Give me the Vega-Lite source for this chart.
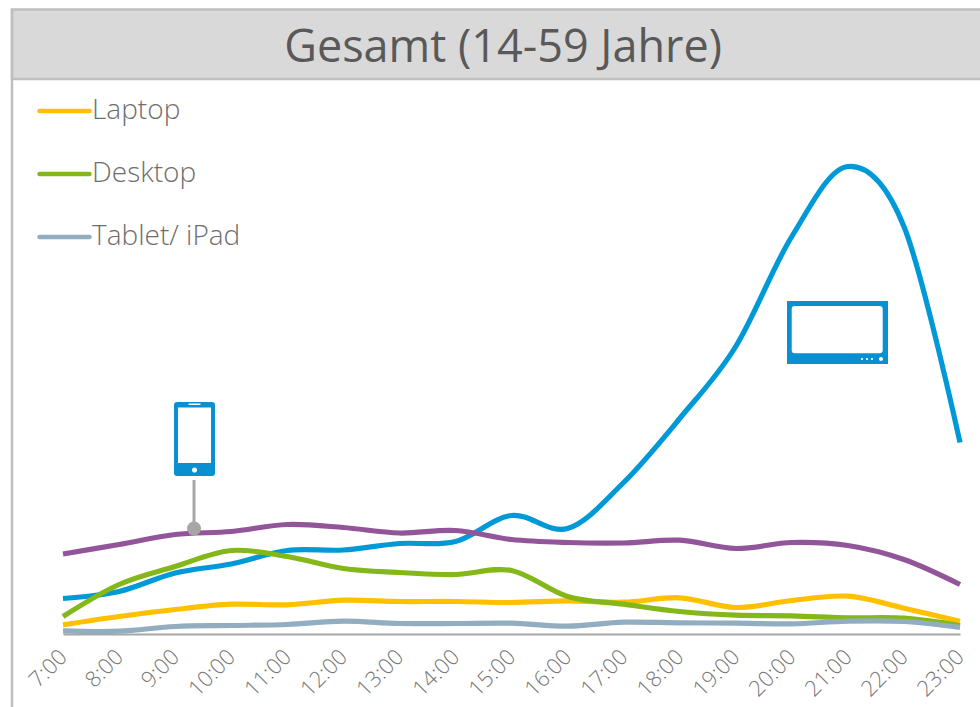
{
"$schema":"https://vega.github.io/schema/vega-lite/v6.json",
"width":897,"height":634,"autosize":{"type":"none"},
"padding":{"left":63,"right":20,"top":0,"bottom":73},
"background":"white",
"config":{"view":{"stroke":null},"font":"Open Sans"},
"layer":[
{"mark":{"type":"rect","fill":"#d9d9d9","stroke":"#bfbfbf","strokeWidth":2.5},
 "data":{"values":[{}]},
 "encoding":{"x":{"datum":6.09,"type":"quantitative","scale":{"domain":[7,23]},
   "axis":{"values":[7,8,9,10,11,12,13,14,15,16,17,18,19,20,21,22,23],"labelExpr":"datum.value + ':00'","title":null,"grid":false,"ticks":false,"domainColor":"#a6a6a6","domainWidth":2,"labelAngle":-45,"labelAlign":"right","labelBaseline":"middle","labelFontSize":22,"labelFont":"Open Sans","labelFontWeight":300,"labelColor":"#767676","labelPadding":19,"labelOverlap":false,"labelBound":false,"labelFlush":false}},"x2":{"datum":23.6},"y":{"datum":626.5,"type":"quantitative","scale":{"domain":[2,636]},"axis":null},"y2":{"datum":557}}},
{"mark":{"type":"rule","stroke":"#bfbfbf","strokeWidth":2.5},
 "data":{"values":[{}]},
 "encoding":{"x":{"datum":6.09,"type":"quantitative","scale":{"domain":[7,23]}},"y":{"datum":626.5,"type":"quantitative","scale":{"domain":[2,636]},"axis":null},"y2":{"datum":-80}}},
{"mark":{"type":"text","fontSize":45,"font":"Open Sans","fontWeight":400,"color":"#595959","align":"center","baseline":"alphabetic"},
 "data":{"values":[{"t":"Gesamt (14-59 Jahre)"}]},
 "encoding":{"text":{"field":"t"},"x":{"datum":14.85,"type":"quantitative","scale":{"domain":[7,23]}},"y":{"datum":574,"type":"quantitative","scale":{"domain":[2,636]},"axis":null}}},
{"mark":{"type":"line","interpolate":"cardinal","strokeWidth":5.2,"strokeCap":"butt","clip":false},
 "data":{"values":[
{"h":7,"s":"TV","v":37.5},{"h":8,"s":"TV","v":44.5},{"h":9,"s":"TV","v":63},{"h":10,"s":"TV","v":72},{"h":11,"s":"TV","v":85.5},{"h":12,"s":"TV","v":86},{"h":13,"s":"TV","v":92.5},{"h":14,"s":"TV","v":94.5},{"h":15,"s":"TV","v":120.5},{"h":16,"s":"TV","v":107.5},{"h":17,"s":"TV","v":153.5},{"h":18,"s":"TV","v":217.5},{"h":19,"s":"TV","v":289.5},{"h":20,"s":"TV","v":399.5},{"h":21,"s":"TV","v":469.5},{"h":22,"s":"TV","v":409.5},{"h":23,"s":"TV","v":193.5},
{"h":7,"s":"Smartphone","v":82},{"h":8,"s":"Smartphone","v":91.5},{"h":9,"s":"Smartphone","v":101.5},{"h":10,"s":"Smartphone","v":104.5},{"h":11,"s":"Smartphone","v":111.5},{"h":12,"s":"Smartphone","v":108.5},{"h":13,"s":"Smartphone","v":103},{"h":14,"s":"Smartphone","v":105.5},{"h":15,"s":"Smartphone","v":96.5},{"h":16,"s":"Smartphone","v":93.5},{"h":17,"s":"Smartphone","v":93},{"h":18,"s":"Smartphone","v":95.8},{"h":19,"s":"Smartphone","v":87.5},{"h":20,"s":"Smartphone","v":93.5},{"h":21,"s":"Smartphone","v":90.5},{"h":22,"s":"Smartphone","v":76.5},{"h":23,"s":"Smartphone","v":51.5},
{"h":7,"s":"Laptop","v":11.2},{"h":8,"s":"Laptop","v":19.5},{"h":9,"s":"Laptop","v":26.5},{"h":10,"s":"Laptop","v":31.8},{"h":11,"s":"Laptop","v":31.2},{"h":12,"s":"Laptop","v":35.8},{"h":13,"s":"Laptop","v":34.5},{"h":14,"s":"Laptop","v":34.5},{"h":15,"s":"Laptop","v":33.5},{"h":16,"s":"Laptop","v":35.2},{"h":17,"s":"Laptop","v":33.8},{"h":18,"s":"Laptop","v":38.2},{"h":19,"s":"Laptop","v":28.5},{"h":20,"s":"Laptop","v":35.5},{"h":21,"s":"Laptop","v":39.8},{"h":22,"s":"Laptop","v":27.8},{"h":23,"s":"Laptop","v":14.8},
{"h":7,"s":"Desktop","v":19.5},{"h":8,"s":"Desktop","v":51.5},{"h":9,"s":"Desktop","v":69.5},{"h":10,"s":"Desktop","v":85.5},{"h":11,"s":"Desktop","v":79.5},{"h":12,"s":"Desktop","v":67.5},{"h":13,"s":"Desktop","v":63.5},{"h":14,"s":"Desktop","v":61.5},{"h":15,"s":"Desktop","v":65.5},{"h":16,"s":"Desktop","v":39.5},{"h":17,"s":"Desktop","v":31.8},{"h":18,"s":"Desktop","v":24.5},{"h":19,"s":"Desktop","v":20.8},{"h":20,"s":"Desktop","v":20.2},{"h":21,"s":"Desktop","v":18.2},{"h":22,"s":"Desktop","v":17.8},{"h":23,"s":"Desktop","v":10.5},
{"h":7,"s":"Tablet/ iPad","v":5.2},{"h":8,"s":"Tablet/ iPad","v":4.8},{"h":9,"s":"Tablet/ iPad","v":9.5},{"h":10,"s":"Tablet/ iPad","v":10.5},{"h":11,"s":"Tablet/ iPad","v":11.5},{"h":12,"s":"Tablet/ iPad","v":14.8},{"h":13,"s":"Tablet/ iPad","v":12.5},{"h":14,"s":"Tablet/ iPad","v":12.5},{"h":15,"s":"Tablet/ iPad","v":12.8},{"h":16,"s":"Tablet/ iPad","v":9.8},{"h":17,"s":"Tablet/ iPad","v":13.8},{"h":18,"s":"Tablet/ iPad","v":13.2},{"h":19,"s":"Tablet/ iPad","v":12.8},{"h":20,"s":"Tablet/ iPad","v":12.2},{"h":21,"s":"Tablet/ iPad","v":14.8},{"h":22,"s":"Tablet/ iPad","v":14.5},{"h":23,"s":"Tablet/ iPad","v":8.5}
 ]},
 "encoding":{
  "x":{"field":"h","type":"quantitative","scale":{"domain":[7,23]}},
  "y":{"field":"v","type":"quantitative","scale":{"domain":[2,636]},"axis":null},
  "color":{"field":"s","type":"nominal","scale":{"domain":["TV","Smartphone","Laptop","Desktop","Tablet/ iPad"],"range":["#0099d8","#93559a","#ffc000","#84b818","#92adc0"]},
   "legend":{"values":["Laptop","Desktop","Tablet/ iPad"],"title":null,"orient":"none","legendX":-26,"legendY":96,"symbolType":"stroke","symbolSize":2500,"symbolStrokeWidth":4.5,"labelFontSize":28,"labelFont":"Open Sans","labelFontWeight":300,"labelColor":"#6e6e6e","labelOffset":0,"rowPadding":33,"clipHeight":30,"encode":{"symbols":{"update":{"strokeCap":{"value":"round"}}}}}}
 }},
{"mark":{"type":"rule","stroke":"#a6a6a6","strokeWidth":3},
 "data":{"values":[{}]},
 "encoding":{"x":{"datum":9.337,"type":"quantitative","scale":{"domain":[7,23]}},"y":{"datum":156,"type":"quantitative","scale":{"domain":[2,636]},"axis":null},"y2":{"datum":108}}},
{"mark":{"type":"point","shape":"circle","filled":true,"fill":"#a6a6a6","opacity":1,"size":196,"strokeWidth":0},
 "data":{"values":[{}]},
 "encoding":{"x":{"datum":9.337,"type":"quantitative","scale":{"domain":[7,23]}},"y":{"datum":107.5,"type":"quantitative","scale":{"domain":[2,636]},"axis":null}}},
{"mark":{"type":"point","filled":true,"fill":"#0a8fd0","opacity":1,"strokeWidth":0,"size":5476,
  "shape":"M-0.47 -1 H0.47 Q0.554 -1 0.554 -0.92 V0.92 Q0.554 1 0.47 1 H-0.47 Q-0.554 1 -0.554 0.92 V-0.92 Q-0.554 -1 -0.47 -1 Z M-0.446 -0.851 V0.649 H0.446 V-0.851 Z M-0.16 -0.96 V-0.92 H0.16 V-0.96 Z M-0.07 0.838 a0.07 0.07 0 1 0 0.14 0 a0.07 0.07 0 1 0 -0.14 0 Z"},
 "data":{"values":[{}]},
 "encoding":{"x":{"datum":9.346,"type":"quantitative","scale":{"domain":[7,23]}},"y":{"datum":197,"type":"quantitative","scale":{"domain":[2,636]},"axis":null}}},
{"mark":{"type":"point","filled":true,"fill":"#0a8fd0","opacity":1,"strokeWidth":0,"size":10201,
  "shape":"M-1 -0.624 H1 V0.624 H-1 Z M-0.847 -0.525 Q-0.907 -0.525 -0.907 -0.465 V0.352 Q-0.907 0.412 -0.847 0.412 H0.835 Q0.895 0.412 0.895 0.352 V-0.465 Q0.895 -0.525 0.835 -0.525 Z M0.465 0.525 a0.02 0.02 0 1 0 0.04 0 a0.02 0.02 0 1 0 -0.04 0 Z M0.564 0.525 a0.02 0.02 0 1 0 0.04 0 a0.02 0.02 0 1 0 -0.04 0 Z M0.663 0.525 a0.02 0.02 0 1 0 0.04 0 a0.02 0.02 0 1 0 -0.04 0 Z M0.821 0.525 a0.04 0.04 0 1 0 0.08 0 a0.04 0.04 0 1 0 -0.08 0 Z"},
 "data":{"values":[{}]},
 "encoding":{"x":{"datum":20.815,"type":"quantitative","scale":{"domain":[7,23]}},"y":{"datum":303.5,"type":"quantitative","scale":{"domain":[2,636]},"axis":null}}}
]
}
